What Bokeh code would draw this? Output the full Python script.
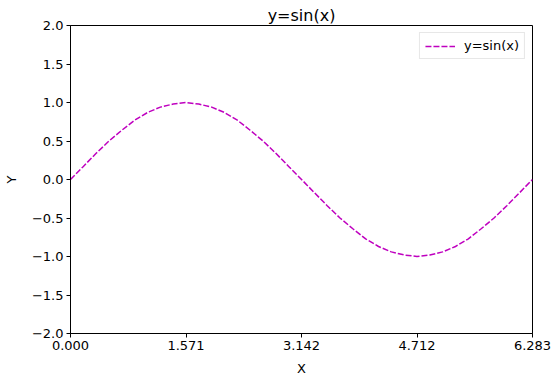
from bokeh.plotting import figure
from bokeh.models import FixedTicker, Range1d, Legend, LegendItem
from bokeh.embed import file_html
from bokeh.resources import INLINE

# data (x in radians, 10-degree steps)
x_vals = [0.000, 0.175, 0.349, 0.524, 0.698, 0.873, 1.047, 1.222, 1.396, 1.571,
          1.745, 1.920, 2.094, 2.269, 2.443, 2.618, 2.793, 2.967, 3.142,
          3.316, 3.491, 3.665, 3.840, 4.014, 4.189, 4.363, 4.538, 4.712,
          4.887, 5.061, 5.236, 5.411, 5.585, 5.760, 5.934, 6.109, 6.283]
y_vals = [0.00, 0.17, 0.34, 0.50, 0.64, 0.77, 0.87, 0.94, 0.98, 1.00,
          0.98, 0.94, 0.87, 0.77, 0.64, 0.50, 0.34, 0.17, 0.00,
          -0.17, -0.34, -0.50, -0.64, -0.77, -0.87, -0.94, -0.98, -1.00,
          -0.98, -0.94, -0.87, -0.77, -0.64, -0.50, -0.34, -0.17, 0.00]
x_ticks = [0.0, 1.5708, 3.1416, 4.7124, 6.2832]
x_tick_labels = ["0.000", "1.571", "3.142", "4.712", "6.283"]
y_ticks = [-2.0, -1.5, -1.0, -0.5, 0.0, 0.5, 1.0, 1.5, 2.0]
y_tick_labels = ["\u22122.0", "\u22121.5", "\u22121.0", "\u22120.5", "0.0", "0.5", "1.0", "1.5", "2.0"]
series_name = "y=sin(x)"

FONT = "DejaVu Sans"

p = figure(width=553, height=379, output_backend="svg", toolbar_location=None,
           x_range=Range1d(0, 6.2832), y_range=Range1d(-2, 2),
           min_border_left=67, min_border_right=21, min_border_top=25, min_border_bottom=46)

p.title.text = "y=sin(x)"
p.title.align = "center"
p.title.text_font = FONT
p.title.text_font_size = "16px"
p.title.text_font_style = "normal"
p.title.text_color = "black"
p.title.offset = 0
p.title.standoff = 2

p.xgrid.visible = False
p.ygrid.visible = False
p.outline_line_color = "black"
p.outline_line_alpha = 1.0
p.outline_line_width = 1
p.background_fill_color = "white"
p.border_fill_color = "white"

for ax, ticks, labels in ((p.xaxis[0], x_ticks, x_tick_labels), (p.yaxis[0], y_ticks, y_tick_labels)):
    ax.ticker = FixedTicker(ticks=ticks)
    ax.major_label_overrides = {t: l for t, l in zip(ticks, labels)}
    ax.minor_tick_line_color = None
    ax.major_tick_in = 0
    ax.major_tick_out = 4
    ax.major_tick_line_color = "black"
    ax.axis_line_color = "black"
    ax.major_label_text_font = FONT
    ax.major_label_text_font_size = "13px"
    ax.major_label_text_color = "black"
    ax.axis_label_text_font = FONT
    ax.axis_label_text_font_size = "13px"
    ax.axis_label_text_font_style = "normal"
    ax.axis_label_text_color = "black"
    ax.major_label_standoff = 3

p.xaxis.axis_label = "X"
p.yaxis.axis_label = "Y"
p.xaxis.axis_label_standoff = 8
p.yaxis.axis_label_standoff = 10

r = p.line(x_vals, y_vals, line_color="#bf00bf", line_width=1.5, line_dash="6 2")

legend = Legend(items=[LegendItem(label=series_name, renderers=[r])], location="top_right")
legend.label_text_font = FONT
legend.label_text_font_size = "13px"
legend.label_text_color = "black"
legend.border_line_color = "#d0d0d0"
legend.border_line_width = 1
legend.margin = 7
legend.padding = 5
legend.spacing = 0
legend.glyph_width = 30
legend.glyph_height = 14
legend.label_standoff = 9
legend.label_height = 14
p.add_layout(legend)

open("out.html", "w").write(file_html(p, INLINE))
